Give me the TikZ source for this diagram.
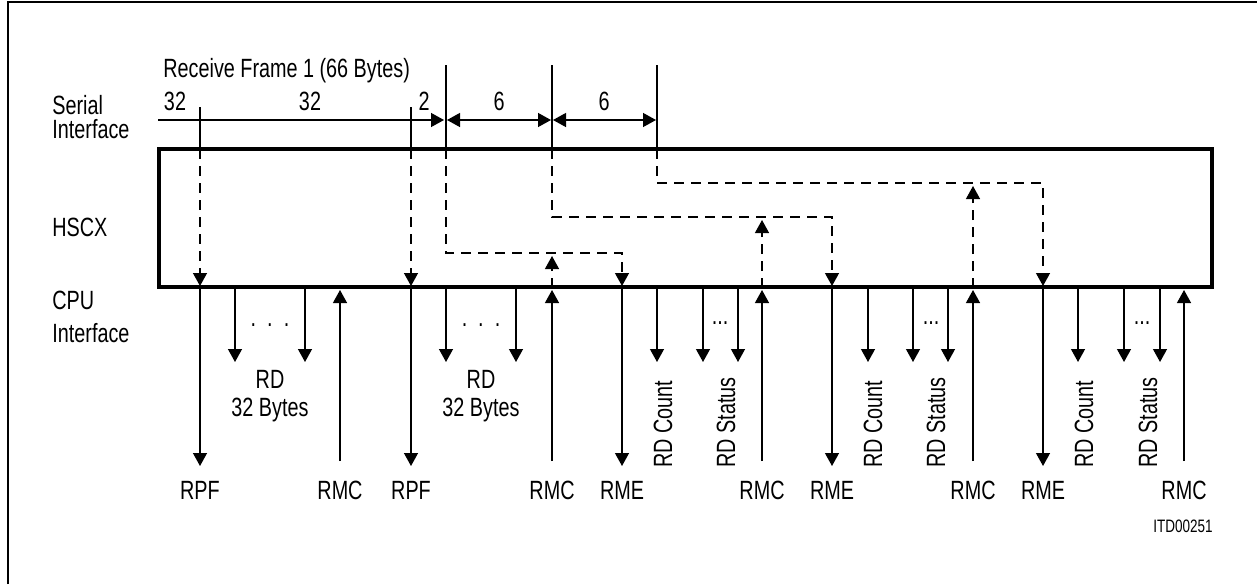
\documentclass[tikz,border=0pt]{standalone}
\usepackage{fontspec}
\setmainfont{Liberation Sans}[FakeStretch=0.75]
\usetikzlibrary{arrows.meta}
\begin{document}
\begin{tikzpicture}[x=0.5pt,y=-0.5pt,
  thinline/.style={line width=0.65pt},
  dashline/.style={line width=0.65pt, dash pattern=on 5pt off 3.5pt},
  tipend/.style={-{Triangle[length=6.5pt,width=7pt]}},
  tipboth/.style={{Triangle[length=6.5pt,width=7pt]}-{Triangle[length=6.5pt,width=7pt]}},
  lbl/.style={font=\fontsize{13.2}{14}\selectfont, inner sep=0pt, anchor=base},
  lblw/.style={font=\fontsize{13.2}{14}\selectfont, inner sep=0pt, anchor=base west},
  vlbl/.style={font=\fontsize{13.2}{14}\selectfont, inner sep=0pt, rotate=90, anchor=west},
]
\useasboundingbox (0,0) rectangle (1257,584);
% outer frame
\draw[line width=1pt] (8,584) -- (8,2) -- (1257,2);
% HSCX box
\draw[line width=2pt] (159,149) rectangle (1212,287);
% left labels
\node[lblw] (ser1) at (52,114) {Serial};
\node[lblw] (ser2) at (52,138) {Interface};
\node[lblw] (hscx) at (52,236) {HSCX};
\node[lblw] (cpu1) at (52,309) {CPU};
\node[lblw] (cpu2) at (52,342) {Interface};
% frame title
\node[lblw] (title) at (163,77) {Receive Frame 1 (66 Bytes)};
% serial interface boundaries
\coordinate (s0) at (158,120);
\coordinate (atop) at (200,107); \coordinate (abox) at (200,149);
\coordinate (btop) at (411,107); \coordinate (bbox) at (411,149);
\coordinate (ctop) at (446,65);  \coordinate (cbox) at (446,149);
\coordinate (dtop) at (552,65);  \coordinate (dbox) at (552,149);
\coordinate (etop) at (657,65);  \coordinate (ebox) at (657,149);
\draw[thinline] (atop) -- (abox);
\draw[thinline] (btop) -- (bbox);
\draw[thinline] (ctop) -- (cbox);
\draw[thinline] (dtop) -- (dbox);
\draw[thinline] (etop) -- (ebox);
\draw[thinline, tipend] (s0) -- (444,120);
\draw[thinline, tipboth] (447,120) -- (551,120);
\draw[thinline, tipboth] (553,120) -- (656,120);
\node[lbl] (n32a) at (175,110) {32};
\node[lbl] (n32b) at (310,110) {32};
\node[lbl] (n2) at (424,110) {2};
\node[lbl] (n6a) at (499,110) {6};
\node[lbl] (n6b) at (604,110) {6};
% dashed paths inside HSCX
\draw[dashline, tipend] (abox) -- (200,286);
\draw[dashline, tipend] (bbox) -- (411,286);
\draw[dashline, tipend] (cbox) -- (446,253) -- (622,253) -- (622,286);
\draw[dashline, tipend] (dbox) -- (552,217) -- (832,217) -- (832,286);
\draw[dashline, tipend] (ebox) -- (657,183) -- (1043,183) -- (1043,286);
\draw[dashline, tipend] (552,288) -- (552,256);
\draw[dashline, tipend] (762,288) -- (762,220);
\draw[dashline, tipend] (973,288) -- (973,186);
% CPU interface arrows
\foreach \x in {200,411,622,832,1043}{
  \draw[thinline, tipend] (\x,289) -- (\x,466);
}
\foreach \x in {235,305,446,516,657,703,738,868,913,948,1078,1124,1160}{
  \draw[thinline, tipend] (\x,289) -- (\x,362);
}
\foreach \x in {340,552,762,973,1184}{
  \draw[thinline, tipend] (\x,461) -- (\x,290);
}
% dots
\node[lbl] (dots1) at (270,326) {.\ \ .\ \ .};
\node[lbl] (dots2) at (481,326) {.\ \ .\ \ .};
\node[lbl] (dots3) at (720,324) {...};
\node[lbl] (dots4) at (931,324) {...};
\node[lbl] (dots5) at (1142,324) {...};
% RD 32 Bytes
\node[lbl] (rd1) at (270,388) {RD};
\node[lbl] (rd1b) at (270,416) {32 Bytes};
\node[lbl] (rd2) at (481,388) {RD};
\node[lbl] (rd2b) at (481,416) {32 Bytes};
% rotated labels
\node[vlbl] (cnt1) at (663,468) {RD Count};
\node[vlbl] (cnt2) at (873,468) {RD Count};
\node[vlbl] (cnt3) at (1084,468) {RD Count};
\node[vlbl] (st1) at (726,468) {RD Status};
\node[vlbl] (st2) at (936,468) {RD Status};
\node[vlbl] (st3) at (1148,468) {RD Status};
% bottom labels
\node[lbl] (rpf1) at (200,499) {RPF};
\node[lbl] (rpf2) at (411,499) {RPF};
\node[lbl] (rmc1) at (340,499) {RMC};
\node[lbl] (rmc2) at (552,499) {RMC};
\node[lbl] (rmc3) at (762,499) {RMC};
\node[lbl] (rmc4) at (973,499) {RMC};
\node[lbl] (rmc5) at (1184,499) {RMC};
\node[lbl] (rme1) at (622,499) {RME};
\node[lbl] (rme2) at (832,499) {RME};
\node[lbl] (rme3) at (1043,499) {RME};
\node[font=\fontsize{9}{10}\selectfont, inner sep=0pt, anchor=base east] (itd) at (1213,532) {ITD00251};
\end{tikzpicture}
\end{document}
